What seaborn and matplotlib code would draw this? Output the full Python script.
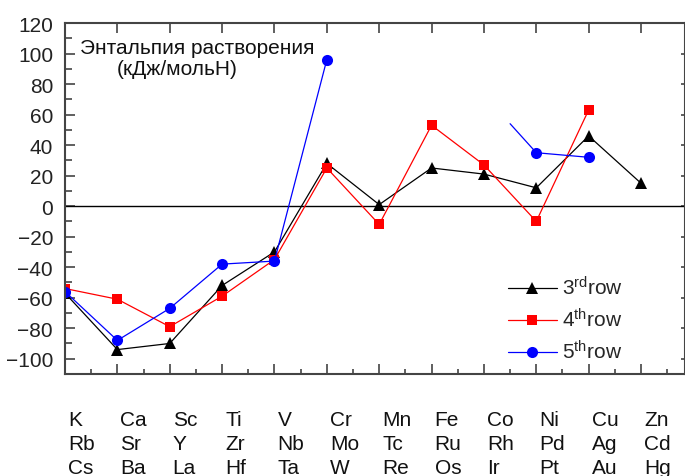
import numpy as np
import pandas as pd
import matplotlib
matplotlib.use("Agg")
import matplotlib.pyplot as plt
import matplotlib.transforms as mtransforms
from matplotlib.lines import Line2D
from matplotlib.ticker import MultipleLocator
import seaborn as sns

# ---- data ----
elements_row1 = ["K", "Ca", "Sc", "Ti", "V", "Cr", "Mn", "Fe", "Co", "Ni", "Cu", "Zn"]
elements_row2 = ["Rb", "Sr", "Y", "Zr", "Nb", "Mo", "Tc", "Ru", "Rh", "Pd", "Ag", "Cd"]
elements_row3 = ["Cs", "Ba", "La", "Hf", "Ta", "W", "Re", "Os", "Ir", "Pt", "Au", "Hg"]

nan = np.nan
row3_vals = [-57, -94, -90, -52, -30, 28, 1, 25, 21, 12, 46, 15]
row4_vals = [-54, -61, -79, -59, -35, 25, -12, 53, 27, -10, 63, nan]
row5_vals = [-56, -88, -67, -38, -36, 96, nan, nan, nan, 35, 32, nan]
# short unmarked blue stub ending at Ni
row5_stub_x = [8.5, 9]
row5_stub_y = [54, 35]

series_labels = [r"3$^{\mathrm{rd}}$row", r"4$^{\mathrm{th}}$row", r"5$^{\mathrm{th}}$row"]
annotation_lines = ["Энтальпия растворения", "(кДж/мольН)"]

# ---- style ----
sns.set_style("ticks")
plt.rcParams.update({
    "font.family": ["Liberation Sans", "DejaVu Sans"],
    "mathtext.fontset": "custom",
    "mathtext.rm": "Liberation Sans",
    "mathtext.it": "Liberation Sans:italic",
    "mathtext.bf": "Liberation Sans:bold",
})

FS = 15
fig = plt.figure(figsize=(6.85, 4.77), dpi=100)
ax = fig.add_axes([65 / 685, 102 / 477, 620 / 685, 351 / 477])


def to_long(vals):
    x = np.arange(len(vals))
    v = np.asarray(vals, dtype=float)
    isnan = np.isnan(v)
    seg = np.cumsum(isnan)
    df = pd.DataFrame({"x": x, "v": v, "seg": seg})
    return df[~isnan]


styles = [
    (row3_vals, "^", "#000000", 9),
    (row4_vals, "s", "#ff0000", 7.5),
    (row5_vals, "o", "#0000ff", 8),
]

ax.axhline(0, color="black", lw=1.0, zorder=1)

for vals, marker, color, ms in styles:
    if color == "#0000ff":
        sns.lineplot(x=row5_stub_x, y=row5_stub_y, color=color, lw=0.9, ax=ax,
                     legend=False, sort=False)
    d = to_long(vals)
    sns.lineplot(data=d, x="x", y="v", units="seg", estimator=None, color=color,
                 marker=marker, markersize=ms, markeredgewidth=0, lw=0.9,
                 ax=ax, legend=False, sort=False)

ax.set_xlim(0, 11.84)
ax.set_ylim(-110, 120)
ax.set_xlabel("")
ax.set_ylabel("")

ax.set_xticks(range(len(elements_row1)))
ax.xaxis.set_minor_locator(MultipleLocator(0.5))
ax.set_yticks(range(-100, 121, 20))
ax.yaxis.set_minor_locator(MultipleLocator(10))

spine_color = "#444444"
for s in ax.spines.values():
    s.set_color(spine_color)
    s.set_linewidth(1.5)
    s.set_visible(True)

ax.tick_params(axis="both", which="both", direction="in", color=spine_color, width=1.2)
ax.tick_params(axis="x", which="major", top=True, bottom=True, length=7, labelbottom=False)
ax.tick_params(axis="x", which="minor", top=False, bottom=True, length=3.5)
ax.tick_params(axis="y", which="major", left=True, right=False, length=7, pad=8.6,
               labelsize=FS, labelcolor="#222222")
ax.tick_params(axis="y", which="minor", left=True, right=False, length=5)

sec = ax.secondary_yaxis("right")
sec.set_yticks(range(-100, 101, 20))
sec.tick_params(direction="in", length=3, width=1.2, color=spine_color, labelright=False)
sec.spines["right"].set_color(spine_color)

# element labels (three rows) below the axis
offset = mtransforms.ScaledTranslation(3 / 100, 0, fig.dpi_scale_trans)
trans = mtransforms.blended_transform_factory(ax.transData, ax.transAxes) + offset
row_y = [(375 - 426) / 351, (375 - 450) / 351, (375 - 474) / 351]
for i, names in enumerate(zip(elements_row1, elements_row2, elements_row3)):
    for name, yy in zip(names, row_y):
        ax.text(i, yy, name, transform=trans, ha="left", va="baseline",
                fontsize=FS, color="#111111", clip_on=False)

# annotation
ax.text(0.024, 0.929, annotation_lines[0], transform=ax.transAxes, ha="left",
        va="center", fontsize=FS, color="#111111")
ax.text(0.084, 0.869, annotation_lines[1], transform=ax.transAxes, ha="left",
        va="center", fontsize=FS, color="#111111")

# legend
handles = [Line2D([], [], color=c, marker=m, markersize=ms, markeredgewidth=0, lw=0.9)
           for _, m, c, ms in styles]
ax.legend(handles, series_labels, loc="upper left", bbox_to_anchor=(0.7145, 0.28),
          frameon=False, handlelength=2.35, handletextpad=0.25, labelspacing=0.42,
          borderpad=0, borderaxespad=0, fontsize=FS, numpoints=1)

fig.savefig("out.png", dpi=100)
